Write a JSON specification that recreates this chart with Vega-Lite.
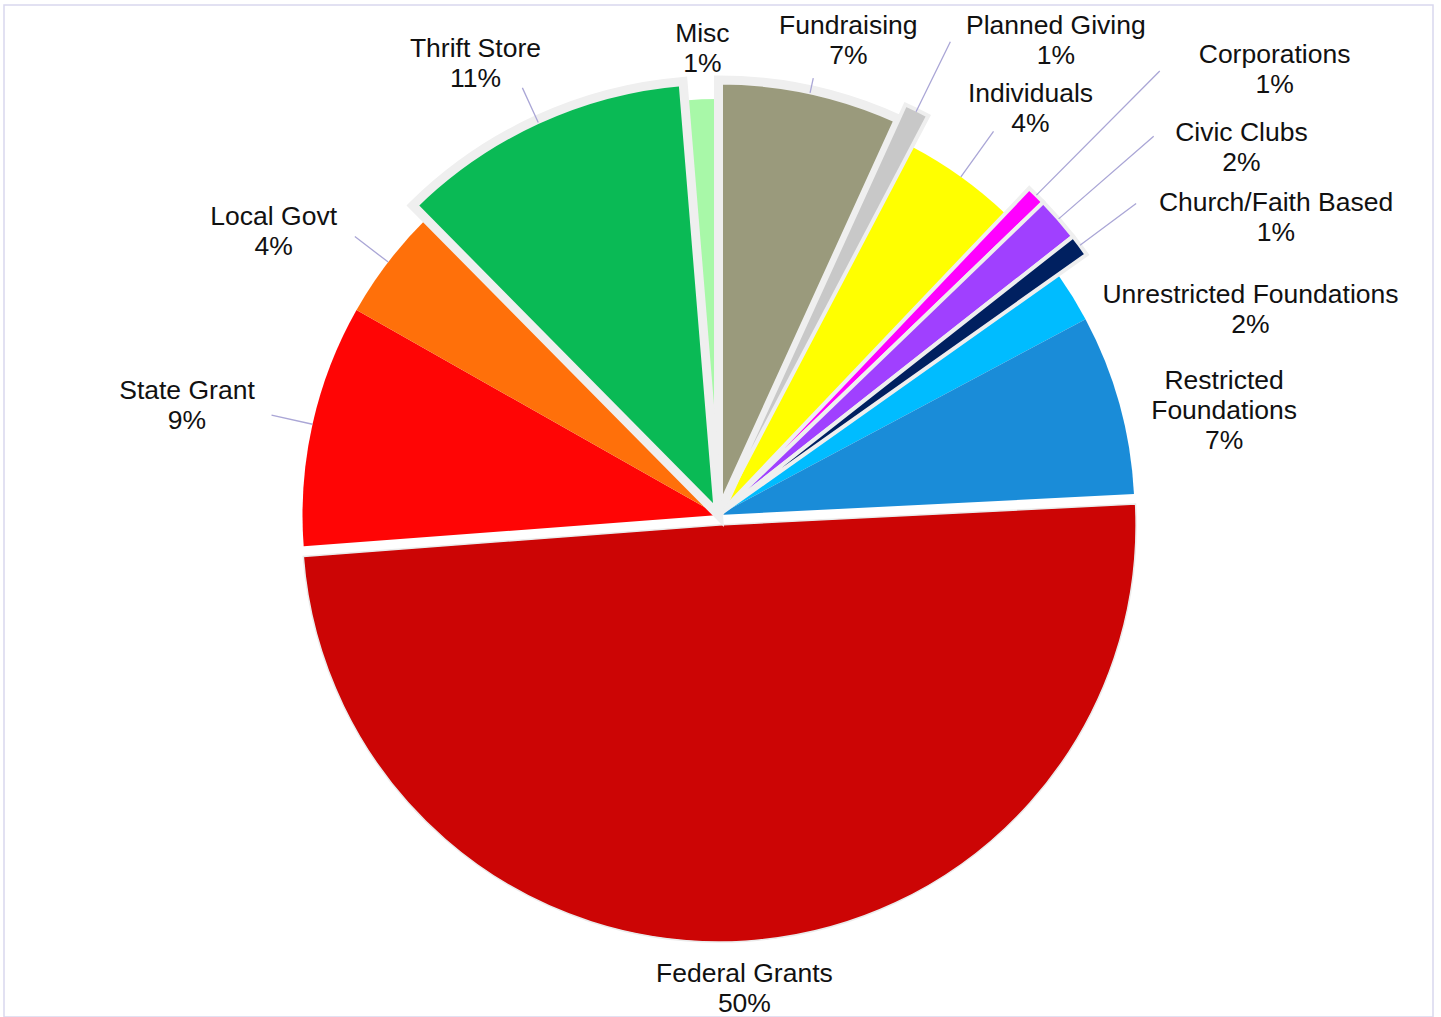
{
  "$schema": "https://vega.github.io/schema/vega-lite/v6.json",
  "width": 1429,
  "height": 1012,
  "autosize": {"type": "none"},
  "padding": {"left": 4, "top": 5, "right": 8, "bottom": 0},
  "background": "white",
  "view": {"stroke": "#d9d8ee", "strokeWidth": 1.5},
  "config": {"view": {"stroke": "#d9d8ee", "strokeWidth": 1.5}},
  "data": {
    "values": [
      {"source": "Fundraising", "value": 6.8, "label": "Fundraising\n7%"},
      {"source": "Planned Giving", "value": 0.9, "label": "Planned Giving\n1%"},
      {"source": "Individuals", "value": 4.4, "label": "Individuals\n4%"},
      {"source": "Corporations", "value": 0.7, "label": "Corporations\n1%"},
      {"source": "Civic Clubs", "value": 1.6, "label": "Civic Clubs\n2%"},
      {"source": "Church/Faith Based", "value": 0.8, "label": "Church/Faith Based\n1%"},
      {"source": "Unrestricted Foundations", "value": 2.0, "label": "Unrestricted Foundations\n2%"},
      {"source": "Restricted Foundations", "value": 7.0, "label": "Restricted\nFoundations\n7%"},
      {"source": "Federal Grants", "value": 49.6, "label": "Federal Grants\n50%"},
      {"source": "State Grant", "value": 9.4, "label": "State Grant\n9%"},
      {"source": "Local Govt", "value": 4.4, "label": "Local Govt\n4%"},
      {"source": "Thrift Store", "value": 11.1, "label": "Thrift Store\n11%"},
      {"source": "Misc", "value": 1.3, "label": "Misc\n1%"}
    ]
  },
  "transform": [{"window": [{"op": "row_number", "as": "idx"}]}],
  "encoding": {
    "theta": {"field": "value", "type": "quantitative", "stack": true},
    "order": {"field": "idx", "type": "quantitative"}
  },
  "layer": [
    {
      "mark": {"type": "arc", "radius": 416, "yOffset": 4},
      "encoding": {
        "color": {"field": "source", "type": "nominal", "legend": null,
          "scale": {"domain": ["Fundraising","Planned Giving","Individuals","Corporations","Civic Clubs","Church/Faith Based","Unrestricted Foundations","Restricted Foundations","Federal Grants","State Grant","Local Govt","Thrift Store","Misc"],
                    "range": ["#9a9a7c","#c8c8c8","#ffff00","#ff00ff","#a040ff","#002060","#00bcff","#1a8cd8","#cc0505","#ff0505","#ff700a","#0aba55","#a8f8a8"]}},
        "opacity": {"condition": {"test": "datum.source == 'Federal Grants'", "value": 0}, "value": 1}
      }
    },
    {
      "mark": {"type": "arc", "radius": 417, "xOffset": 0.6, "yOffset": 14, "stroke": "#ebebeb", "strokeWidth": 1.5},
      "encoding": {
        "color": {"field": "source", "type": "nominal", "legend": null},
        "opacity": {"condition": {"test": "datum.source == 'Federal Grants'", "value": 1}, "value": 0}
      }
    },
    {
      "mark": {"type": "arc", "radius": 435, "yOffset": 4, "stroke": "#efefef", "strokeWidth": 9},
      "encoding": {
        "color": {"field": "source", "type": "nominal", "legend": null},
        "opacity": {"condition": {"test": "indexof(['Fundraising','Thrift Store'], datum.source) >= 0", "value": 1}, "value": 0}
      }
    },
    {
      "mark": {"type": "arc", "radius": 451, "yOffset": 4, "stroke": "#efefef", "strokeWidth": 4},
      "encoding": {
        "color": {"field": "source", "type": "nominal", "legend": null},
        "opacity": {"condition": {"test": "indexof(['Planned Giving','Corporations','Civic Clubs','Church/Faith Based'], datum.source) >= 0", "value": 1}, "value": 0}
      }
    },
    {
      "mark": {"type": "arc", "radius": 447, "radius2": 432, "yOffset": 4, "padAngle": 3.1, "fillOpacity": 0, "stroke": "#aaa6d6", "strokeWidth": 1.3},
      "encoding": {"opacity": {"condition": {"test": "datum.source == 'Fundraising'", "value": 1}, "value": 0}}
    },
    {
      "mark": {"type": "arc", "radius": 527, "radius2": 449, "yOffset": 4, "padAngle": 3.1, "fillOpacity": 0, "stroke": "#aaa6d6", "strokeWidth": 1.3},
      "encoding": {"opacity": {"condition": {"test": "datum.source == 'Planned Giving'", "value": 1}, "value": 0}}
    },
    {
      "mark": {"type": "arc", "radius": 472, "radius2": 416, "yOffset": 4, "padAngle": 3.1, "fillOpacity": 0, "stroke": "#aaa6d6", "strokeWidth": 1.3},
      "encoding": {"opacity": {"condition": {"test": "datum.source == 'Individuals'", "value": 1}, "value": 0}}
    },
    {
      "mark": {"type": "arc", "radius": 626, "radius2": 451, "yOffset": 4, "padAngle": 3.1, "fillOpacity": 0, "stroke": "#aaa6d6", "strokeWidth": 1.3},
      "encoding": {"opacity": {"condition": {"test": "datum.source == 'Corporations'", "value": 1}, "value": 0}}
    },
    {
      "mark": {"type": "arc", "radius": 577, "radius2": 451, "yOffset": 4, "padAngle": 3.1, "fillOpacity": 0, "stroke": "#aaa6d6", "strokeWidth": 1.3},
      "encoding": {"opacity": {"condition": {"test": "datum.source == 'Civic Clubs'", "value": 1}, "value": 0}}
    },
    {
      "mark": {"type": "arc", "radius": 521, "radius2": 451, "yOffset": 4, "padAngle": 3.1, "fillOpacity": 0, "stroke": "#aaa6d6", "strokeWidth": 1.3},
      "encoding": {"opacity": {"condition": {"test": "datum.source == 'Church/Faith Based'", "value": 1}, "value": 0}}
    },
    {
      "mark": {"type": "arc", "radius": 458, "radius2": 416, "yOffset": 4, "padAngle": 3.1, "fillOpacity": 0, "stroke": "#aaa6d6", "strokeWidth": 1.3},
      "encoding": {"opacity": {"condition": {"test": "datum.source == 'State Grant' || datum.source == 'Local Govt'", "value": 1}, "value": 0}}
    },
    {
      "mark": {"type": "arc", "radius": 470, "radius2": 432, "yOffset": 4, "padAngle": 3.1, "fillOpacity": 0, "stroke": "#aaa6d6", "strokeWidth": 1.3},
      "encoding": {"opacity": {"condition": {"test": "datum.source == 'Thrift Store'", "value": 1}, "value": 0}}
    },
    {
      "mark": {"type": "text", "radius": 477, "thetaOffset": 0.007, "font": "Liberation Sans", "fontSize": 26.5, "lineBreak": "\n", "lineHeight": 30, "fill": "#111111"},
      "encoding": {"text": {"condition": {"test": "datum.source == 'Misc'", "field": "label"}, "value": ""}}
    },
    {
      "mark": {"type": "text", "radius": 502, "thetaOffset": 0.048, "font": "Liberation Sans", "fontSize": 26.5, "lineBreak": "\n", "lineHeight": 30, "fill": "#111111"},
      "encoding": {"text": {"condition": {"test": "datum.source == 'Fundraising'", "field": "label"}, "value": ""}}
    },
    {
      "mark": {"type": "text", "radius": 591, "thetaOffset": 0.152, "font": "Liberation Sans", "fontSize": 26.5, "lineBreak": "\n", "lineHeight": 30, "fill": "#111111"},
      "encoding": {"text": {"condition": {"test": "datum.source == 'Planned Giving'", "field": "label"}, "value": ""}}
    },
    {
      "mark": {"type": "text", "radius": 521, "thetaOffset": 0.020, "font": "Liberation Sans", "fontSize": 26.5, "lineBreak": "\n", "lineHeight": 30, "fill": "#111111"},
      "encoding": {"text": {"condition": {"test": "datum.source == 'Individuals'", "field": "label"}, "value": ""}}
    },
    {
      "mark": {"type": "text", "radius": 719, "thetaOffset": 0.102, "font": "Liberation Sans", "fontSize": 26.5, "lineBreak": "\n", "lineHeight": 30, "fill": "#111111"},
      "encoding": {"text": {"condition": {"test": "datum.source == 'Corporations'", "field": "label"}, "value": ""}}
    },
    {
      "mark": {"type": "text", "radius": 645, "thetaOffset": 0.091, "font": "Liberation Sans", "fontSize": 26.5, "lineBreak": "\n", "lineHeight": 30, "fill": "#111111"},
      "encoding": {"text": {"condition": {"test": "datum.source == 'Civic Clubs'", "field": "label"}, "value": ""}}
    },
    {
      "mark": {"type": "text", "radius": 637, "thetaOffset": 0.136, "font": "Liberation Sans", "fontSize": 26.5, "lineBreak": "\n", "lineHeight": 30, "fill": "#111111"},
      "encoding": {"text": {"condition": {"test": "datum.source == 'Church/Faith Based'", "field": "label"}, "value": ""}}
    },
    {
      "mark": {"type": "text", "radius": 574, "thetaOffset": 0.168, "font": "Liberation Sans", "fontSize": 26.5, "lineBreak": "\n", "lineHeight": 30, "fill": "#111111"},
      "encoding": {"text": {"condition": {"test": "datum.source == 'Unrestricted Foundations'", "field": "label"}, "value": ""}}
    },
    {
      "mark": {"type": "text", "radius": 522, "thetaOffset": 0.019, "font": "Liberation Sans", "fontSize": 26.5, "lineBreak": "\n", "lineHeight": 30, "fill": "#111111"},
      "encoding": {"text": {"condition": {"test": "datum.source == 'Restricted Foundations'", "field": "label"}, "value": ""}}
    },
    {
      "mark": {"type": "text", "radius": 464, "thetaOffset": 0.007, "font": "Liberation Sans", "fontSize": 26.5, "lineBreak": "\n", "lineHeight": 30, "fill": "#111111"},
      "encoding": {"text": {"condition": {"test": "datum.source == 'Federal Grants'", "field": "label"}, "value": ""}}
    },
    {
      "mark": {"type": "text", "radius": 545, "thetaOffset": 0.003, "font": "Liberation Sans", "fontSize": 26.5, "lineBreak": "\n", "lineHeight": 30, "fill": "#111111"},
      "encoding": {"text": {"condition": {"test": "datum.source == 'State Grant'", "field": "label"}, "value": ""}}
    },
    {
      "mark": {"type": "text", "radius": 533, "thetaOffset": -0.070, "font": "Liberation Sans", "fontSize": 26.5, "lineBreak": "\n", "lineHeight": 30, "fill": "#111111"},
      "encoding": {"text": {"condition": {"test": "datum.source == 'Local Govt'", "field": "label"}, "value": ""}}
    },
    {
      "mark": {"type": "text", "radius": 522, "thetaOffset": -0.054, "font": "Liberation Sans", "fontSize": 26.5, "lineBreak": "\n", "lineHeight": 30, "fill": "#111111"},
      "encoding": {"text": {"condition": {"test": "datum.source == 'Thrift Store'", "field": "label"}, "value": ""}}
    }
  ]
}
